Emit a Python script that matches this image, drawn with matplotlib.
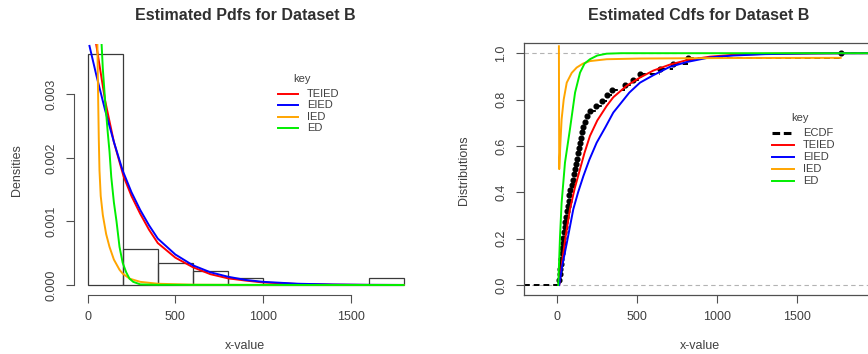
import numpy as np
import matplotlib
matplotlib.use("agg")
import matplotlib.pyplot as plt
from matplotlib.lines import Line2D

W, H = 868, 354

# Histogram of dataset B (bin width 200)
bin_edges = [0, 200, 400, 600, 800, 1000, 1200, 1400, 1600, 1800]
bin_counts = [32, 5, 3, 2, 1, 0, 0, 0, 1]

# Sorted observations of dataset B (used for the ECDF)
obs = [12, 15, 18, 21, 24, 27, 30, 34, 38, 41, 45, 49, 53, 58, 64, 70, 76, 82,
       89, 96, 104, 111, 117, 122, 128, 133, 139, 146, 153, 162, 172, 185,
       205, 244, 281, 312, 344, 423, 470, 517, 640, 720, 815, 1771]

# Fitted densities
teied_pdf_x = [49, 100, 150, 205, 250, 300, 350, 400, 500, 600, 700, 800, 900,
               1000, 1200, 1400, 1600, 1800]
teied_pdf_y = [0.00379, 0.0029, 0.00225, 0.00171, 0.0014, 0.00112, 0.00087,
               0.00066, 0.00043, 0.00028, 0.00017, 0.000105, 0.00007, 0.00004,
               0.000015, 0.000006, 0.000002, 0.000001]
eied_pdf_x = [11, 50, 100, 150, 200, 250, 300, 350, 400, 500, 600, 700, 800,
              900, 1000, 1200, 1400, 1600, 1800]
eied_pdf_y = [0.00376, 0.0033, 0.00275, 0.00225, 0.0018, 0.00146, 0.00118,
              0.00094, 0.00073, 0.00048, 0.00031, 0.0002, 0.00013, 0.00008,
              0.00005, 0.00002, 0.000008, 0.000003, 0.000001]
ied_pdf_x = [56, 60, 64, 68, 75, 87, 106, 125, 150, 182, 200, 240, 300, 400,
             600, 1000, 1800]
ied_pdf_y = [0.00379, 0.0030, 0.0023, 0.0018, 0.0014, 0.0011, 0.0008, 0.0006,
             0.0004, 0.00024, 0.00018, 0.0001, 0.00005, 0.00002, 0.000005,
             0.000001, 0.0]
ed_pdf_x = [80, 87, 100, 115, 125, 135, 150, 165, 182, 200, 220, 239, 260, 300,
            400, 1800]
ed_pdf_y = [0.00379, 0.0034, 0.0029, 0.0024, 0.0021, 0.0017, 0.0013, 0.0010,
            0.0006, 0.00035, 0.0002, 0.0001, 0.00005, 0.00001, 0.000003, 0.0]

# Fitted distribution functions
teied_cdf_x = [12, 30, 50, 79, 110, 142, 170, 204, 250, 309, 350, 392, 434,
               517, 600, 700, 809, 954, 1100, 1300, 1600, 1800, 1990]
teied_cdf_y = [0.0, 0.10, 0.20, 0.327, 0.42, 0.50, 0.57, 0.643, 0.71, 0.773,
               0.81, 0.835, 0.86, 0.895, 0.925, 0.95, 0.97, 0.985, 0.993,
               0.997, 0.999, 1.0, 1.0]
eied_cdf_x = [12, 30, 59, 100, 130, 163, 200, 246, 300, 350, 392, 450, 517,
              600, 700, 809, 954, 1100, 1300, 1600, 1990]
eied_cdf_y = [0.0, 0.08, 0.18, 0.327, 0.40, 0.47, 0.54, 0.614, 0.68, 0.744,
              0.78, 0.83, 0.873, 0.905, 0.94, 0.962, 0.982, 0.99, 0.996,
              0.999, 1.0]
ied_cdf_x = [10, 12, 16, 20, 27, 40, 59, 90, 121, 160, 204, 309, 517, 1000,
             1771]
ied_cdf_y = [1.03, 0.50, 0.56, 0.62, 0.715, 0.80, 0.873, 0.915, 0.938, 0.955,
             0.966, 0.974, 0.977, 0.979, 0.98]
ed_cdf_x = [6, 17, 27, 48, 79, 111, 142, 170, 204, 250, 309, 400, 1990]
ed_cdf_y = [0.0, 0.21, 0.355, 0.528, 0.672, 0.83, 0.916, 0.955, 0.974, 0.99,
            0.998, 1.0, 1.0]

models = ["TEIED", "EIED", "IED", "ED"]
colors = ["red", "blue", "orange", "#00ee00"]

plt.rcParams['font.family'] = ['Liberation Sans', 'DejaVu Sans']
text_col = '#404040'
axis_col = '#505050'
curve_lw = 1.4


def px_rect(left, top, right, bottom):
    return [left / W, 1 - bottom / H, (right - left) / W, (bottom - top) / H]


def style_ticks(ax):
    ax.tick_params(direction='out', length=5.8, width=0.8, colors=axis_col,
                   labelcolor=text_col, labelsize=9)
    ax.tick_params(axis='x', pad=6)
    ax.tick_params(axis='y', pad=6)
    for lab in ax.get_yticklabels():
        lab.set_rotation(90)
        lab.set_va('center')


def key_box(fig, key_xy, line_x, text_x, rows, labels, styles):
    # legend drawn in figure pixels: "key" heading, then one row per entry
    fig.text(key_xy[0] / W, 1 - key_xy[1] / H, "key", ha='center',
             va='center', fontsize=8, color=text_col)
    for y, lab, st in zip(rows, labels, styles):
        fig.add_artist(Line2D([line_x[0] / W, line_x[1] / W],
                              [1 - y / H, 1 - y / H],
                              transform=fig.transFigure, **st))
        fig.text(text_x / W, 1 - y / H, lab, ha='left', va='center',
                 fontsize=8, color=text_col)


fig = plt.figure(figsize=(W / 100, H / 100), dpi=100)

# ---- left: densities over histogram ----
ax1 = fig.add_axes(px_rect(73.5, 44, 73.5 + 1960 * 0.1756, 295))
n = len(obs)
width = bin_edges[1] - bin_edges[0]
dens = [c / (n * width) for c in bin_counts]
ax1.bar(bin_edges[:-1], dens, width=width, align='edge', fill=False,
        edgecolor='#3a3a3a', linewidth=0.9)

pdf_curves = [(teied_pdf_x, teied_pdf_y), (eied_pdf_x, eied_pdf_y),
              (ied_pdf_x, ied_pdf_y), (ed_pdf_x, ed_pdf_y)]
for (xs, ys), c in zip(pdf_curves, colors):
    ax1.plot(xs, ys, color=c, lw=curve_lw)

ax1.set_xlim(-80, 1880)
ax1.set_ylim(-0.000157, 0.00379)
for s in ['top', 'right']:
    ax1.spines[s].set_visible(False)
ax1.spines['left'].set_bounds(0, 0.003)
ax1.spines['bottom'].set_bounds(0, 1500)
for s in ['left', 'bottom']:
    ax1.spines[s].set_color(axis_col)
    ax1.spines[s].set_linewidth(0.8)
ax1.set_xticks([0, 500, 1000, 1500])
ax1.set_yticks([0, 0.001, 0.002, 0.003])
ax1.set_yticklabels(["0.000", "0.001", "0.002", "0.003"])
style_ticks(ax1)

key_box(fig, (302, 79), (278, 298), 307, [94.3, 105.5, 116.8, 128.2],
        models, [dict(color=c, lw=curve_lw) for c in colors])

# ---- right: distribution functions with ECDF ----
ax2 = fig.add_axes(px_rect(523.7, 43, 523.7 + 2200 * 0.16, 295))
x_lo, x_hi = -210, 1990
ax2.axhline(0, color='#b3b3b3', lw=0.8, ls=(0, (4, 3)))
ax2.axhline(1, color='#b3b3b3', lw=0.8, ls=(0, (4, 3)))

ecdf_y = [(i + 1) / n for i in range(n)]
seg_start = [x_lo] + obs
seg_end = obs + [x_hi]
seg_level = [0.0] + ecdf_y
ax2.hlines(seg_level, seg_start, seg_end, colors='black', lw=1.4,
           linestyles=(0, (3, 2)))
ax2.plot(obs, ecdf_y, 'o', color='black', ms=3.4)

cdf_curves = [(teied_cdf_x, teied_cdf_y), (eied_cdf_x, eied_cdf_y),
              (ied_cdf_x, ied_cdf_y), (ed_cdf_x, ed_cdf_y)]
for (xs, ys), c in zip(cdf_curves, colors):
    ax2.plot(xs, ys, color=c, lw=curve_lw)

ax2.set_xlim(x_lo, x_hi)
ax2.set_ylim(-0.043, 1.044)
for s in ax2.spines.values():
    s.set_color(axis_col)
    s.set_linewidth(0.9)
ax2.set_xticks([0, 500, 1000, 1500])
ax2.set_yticks([0, 0.2, 0.4, 0.6, 0.8, 1.0])
ax2.set_yticklabels(["0.0", "0.2", "0.4", "0.6", "0.8", "1.0"])
style_ticks(ax2)

key_box(fig, (800, 118), (772, 794), 803, [133.3, 145.2, 157.0, 168.8, 180.5],
        ["ECDF"] + models,
        [dict(color='black', lw=2.2, ls=(0, (2.5, 1.2)))]
        + [dict(color=c, lw=curve_lw) for c in colors])

# titles and axis labels
fig.text(245 / W, 1 - 15 / H, "Estimated Pdfs for Dataset B", ha='center',
         va='center', fontsize=11.5, fontweight='bold', color='#303030')
fig.text(699 / W, 1 - 15 / H, "Estimated Cdfs for Dataset B", ha='center',
         va='center', fontsize=11.5, fontweight='bold', color='#303030')
fig.text(245 / W, 1 - 346 / H, "x-value", ha='center', va='center',
         fontsize=9, color=text_col)
fig.text(700 / W, 1 - 346 / H, "x-value", ha='center', va='center',
         fontsize=9, color=text_col)
fig.text(17 / W, 1 - 170 / H, "Densities", ha='center', va='center',
         rotation=90, fontsize=9, color=text_col)
fig.text(464 / W, 1 - 170 / H, "Distributions", ha='center', va='center',
         rotation=90, fontsize=9, color=text_col)

fig.savefig("out.png", dpi=100)
